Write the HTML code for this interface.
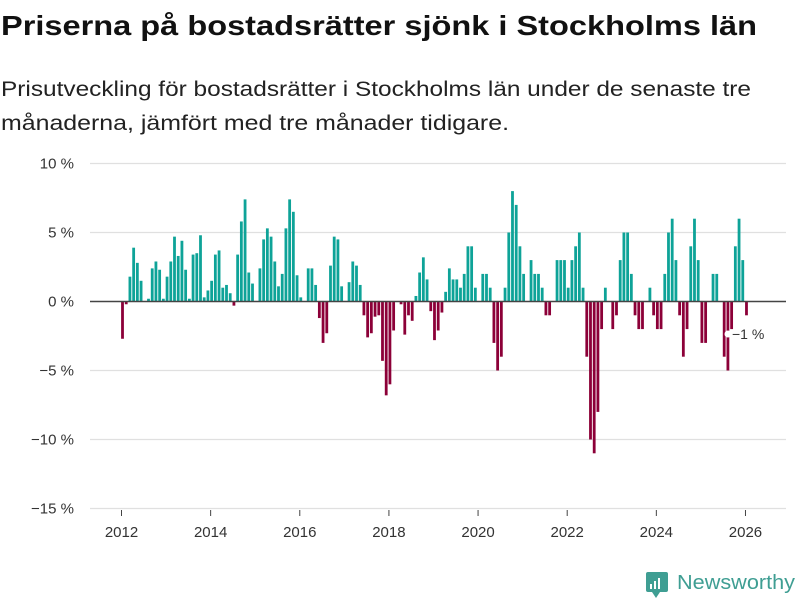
<!DOCTYPE html>
<html><head><meta charset="utf-8"><style>
html,body{margin:0;padding:0;background:#fff;}
svg{display:block;font-family:"Liberation Sans","DejaVu Sans",sans-serif;}
</style></head><body>
<svg id="chart" width="800" height="600" viewBox="0 0 800 600" xmlns="http://www.w3.org/2000/svg">
<text x="1" y="35" font-size="28" font-weight="bold" fill="#111" textLength="756" lengthAdjust="spacingAndGlyphs">Priserna på bostadsrätter sjönk i Stockholms län</text>
<text x="1" y="96" font-size="21" fill="#222" textLength="750" lengthAdjust="spacingAndGlyphs">Prisutveckling för bostadsrätter i Stockholms län under de senaste tre</text>
<text x="1" y="130" font-size="21" fill="#222" textLength="508" lengthAdjust="spacingAndGlyphs">månaderna, jämfört med tre månader tidigare.</text>
<g id="grid"></g>
<g id="bars"></g>
<g id="xaxis"></g>
<g>
<circle cx="728" cy="334" r="3.5" fill="#fff"/>
<text x="732" y="339" font-size="14" fill="#333">−1 %</text>
</g>
<g>
<rect x="646" y="572" width="22" height="20" rx="2" fill="#3f9e93"/>
<polygon points="652,592 660,592 656,598" fill="#3f9e93"/>
<rect x="650" y="584" width="2" height="5" fill="#fff"/>
<rect x="654" y="581" width="2" height="8" fill="#fff"/>
<rect x="658" y="578" width="2" height="11" fill="#fff"/>
<text x="677" y="589" font-size="20" fill="#3f9e93" textLength="118" lengthAdjust="spacingAndGlyphs">Newsworthy</text>
</g>
</svg>
<script>
const values = [
-2.7,-0.2,1.8,3.9,2.8,1.5,0,0.2,2.4,2.9,2.3,0.2,
1.8,2.9,4.7,3.3,4.4,2.3,0.2,3.4,3.5,4.8,0.3,0.8,
1.5,3.4,3.7,1.0,1.2,0.6,-0.3,3.4,5.8,7.4,2.1,1.3,
0,2.4,4.5,5.3,4.7,2.9,1.1,2.0,5.3,7.4,6.5,1.9,
0.3,0,2.4,2.4,1.2,-1.2,-3.0,-2.3,2.6,4.7,4.5,1.1,
0,1.4,2.9,2.6,1.2,-1.0,-2.6,-2.3,-1.1,-1.0,-4.3,-6.8,
-6.0,-2.1,0,-0.2,-2.4,-1.0,-1.4,0.4,2.1,3.2,1.6,-0.7,
-2.8,-2.1,-0.8,0.7,2.4,1.6,1.6,1.0,2.0,4.0,4.0,1.0,
0,2.0,2.0,1.0,-3.0,-5.0,-4.0,1.0,5.0,8.0,7.0,4.0,
2.0,0,3.0,2.0,2.0,1.0,-1.0,-1.0,0,3.0,3.0,3.0,
1.0,3.0,4.0,5.0,1.0,-4.0,-10.0,-11.0,-8.0,-2.0,1.0,0,
-2.0,-1.0,3.0,5.0,5.0,2.0,-1.0,-2.0,-2.0,0,1.0,-1.0,
-2.0,-2.0,2.0,5.0,6.0,3.0,-1.0,-4.0,-2.0,4.0,6.0,3.0,
-3.0,-3.0,0,2.0,2.0,0,-4.0,-5.0,-2.0,4.0,6.0,3.0,
-1.0
];
const startYear = 2012;
const yTicks = [10,5,0,-5,-10,-15];
const yTickLabels = ["10 %","5 %","0 %","−5 %","−10 %","−15 %"];
const xTicks = [2012,2014,2016,2018,2020,2022,2024,2026];

const NS = "http://www.w3.org/2000/svg";
function y(v){ return 301.5 - v*13.8; }
function x(t){ return 121.5 + (t-2012)*44.57; }

const grid = document.getElementById('grid');
yTicks.forEach((t,i)=>{
  if(t!==0){
    const l=document.createElementNS(NS,'line');
    
    
    l.setAttribute('x1',90);l.setAttribute('x2',786);
    l.setAttribute('y1',y(t));l.setAttribute('y2',y(t));
    l.setAttribute('stroke','#e0e0e0');l.setAttribute('stroke-width','1.3');
    grid.appendChild(l);
  }
  const tx=document.createElementNS(NS,'text');
  
  
  tx.setAttribute('x',74);tx.setAttribute('y',y(t)+5);
  tx.setAttribute('text-anchor','end');tx.setAttribute('font-size','15');tx.setAttribute('fill','#333');
  tx.textContent=yTickLabels[i];
  grid.appendChild(tx);
});

const bars=document.getElementById('bars');
values.forEach((v,i)=>{
  if(v===0) return;
  const cx = x(startYear + i/12) + 1;
  const r=document.createElementNS(NS,'rect');
  
  
  r.setAttribute('x',cx-1.4);
  r.setAttribute('width',2.8);
  r.setAttribute('y',Math.min(y(v),y(0)));
  r.setAttribute('height',Math.abs(y(v)-y(0)));
  r.setAttribute('fill', v>0 ? '#0ea398' : '#8c0038');
  bars.appendChild(r);
});
const zl=document.createElementNS(NS,'line');


zl.setAttribute('x1',90);zl.setAttribute('x2',786);
zl.setAttribute('y1',y(0));zl.setAttribute('y2',y(0));
zl.setAttribute('stroke','#444');zl.setAttribute('stroke-width','1.6');
bars.appendChild(zl);

const xa=document.getElementById('xaxis');
xTicks.forEach(t=>{
  const l=document.createElementNS(NS,'line');
  
  
  l.setAttribute('x1',x(t));l.setAttribute('x2',x(t));
  l.setAttribute('y1',510);l.setAttribute('y2',516);
  l.setAttribute('stroke','#444');
  xa.appendChild(l);
  const tx=document.createElementNS(NS,'text');
  
  
  tx.setAttribute('x',x(t));tx.setAttribute('y',537);
  tx.setAttribute('text-anchor','middle');tx.setAttribute('font-size','15');tx.setAttribute('fill','#333');
  tx.textContent=t;
  xa.appendChild(tx);
});
</script>
</body></html>
